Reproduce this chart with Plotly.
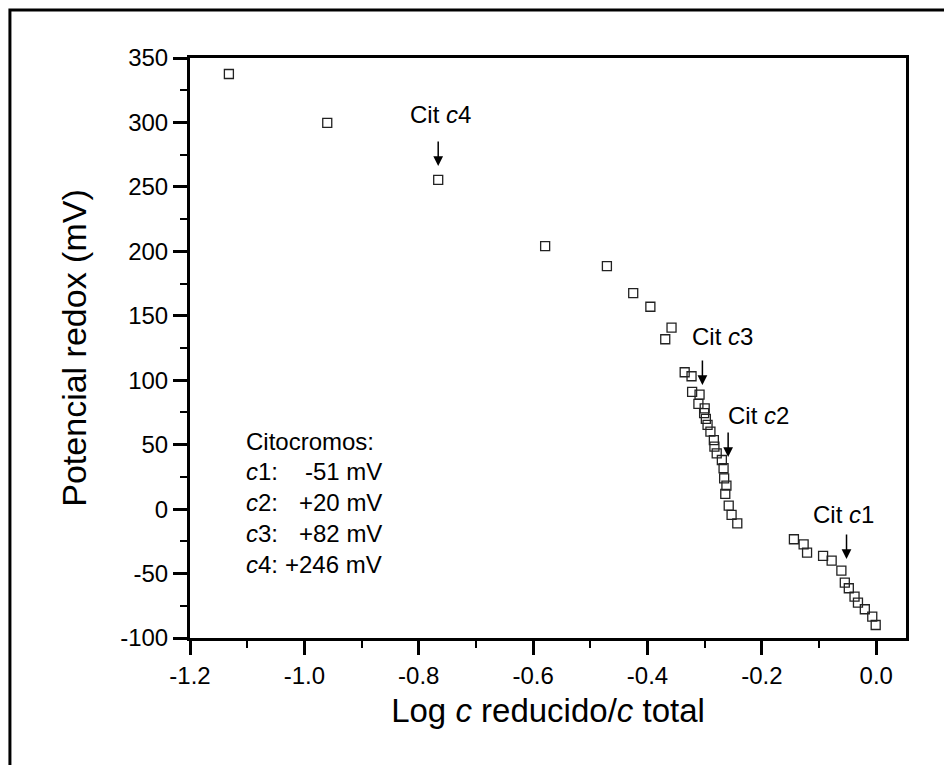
import plotly.graph_objects as go

# Data
log_ratio = [-1.132, -0.960, -0.766, -0.579, -0.471, -0.425, -0.395, -0.358, -0.369,
             -0.335, -0.323, -0.322, -0.309, -0.311, -0.300, -0.301, -0.298, -0.295,
             -0.290, -0.284, -0.283, -0.279, -0.270, -0.267, -0.266, -0.262, -0.264,
             -0.258, -0.253, -0.243,
             -0.144, -0.127, -0.121, -0.093, -0.078, -0.061, -0.055, -0.048, -0.038,
             -0.032, -0.020, -0.007, -0.001]
potential = [337.6, 299.6, 255.4, 204.0, 188.6, 167.5, 157.0, 140.8, 131.8,
             106.2, 103.1, 90.9, 88.8, 81.6, 78.2, 74.4, 70.0, 65.3,
             60.1, 53.6, 48.5, 43.3, 38.1, 31.7, 23.9, 18.2, 11.8,
             2.7, -4.5, -11.0,
             -23.4, -27.3, -33.8, -36.3, -40.0, -47.7, -57.0, -61.4, -67.9,
             -72.6, -77.7, -83.4, -89.9]

x_tickvals = [-1.2, -1.0, -0.8, -0.6, -0.4, -0.2, 0.0]
x_ticktext = ["-1.2", "-1.0", "-0.8", "-0.6", "-0.4", "-0.2", "0.0"]
y_tickvals = [-100, -50, 0, 50, 100, 150, 200, 250, 300, 350]
y_ticktext = ["-100", "-50", "0", "50", "100", "150", "200", "250", "300", "350"]

# Cytochrome labels (text, x, y) and arrow heads (x, y)
cit_labels = ["Cit <i>c</i>4", "Cit <i>c</i>3", "Cit <i>c</i>2", "Cit <i>c</i>1"]
cit_label_x = [-0.7625, -0.269, -0.206, -0.057]
cit_label_y = [305.8, 133.6, 73.0, -3.8]
arrow_x = [-0.766, -0.304, -0.259, -0.052]
arrow_y = [266.2, 96.3, 40.5, -38.7]

legend_title = "Citocromos:"
legend_names = ["<i>c</i>1:", "<i>c</i>2:", "<i>c</i>3:", "<i>c</i>4:"]
legend_values = ["-51 mV", "+20 mV", "+82 mV", "+246 mV"]

FONT = "Liberation Sans, Arial, sans-serif"

fig = go.Figure()
fig.add_trace(go.Scatter(
    x=log_ratio, y=potential, mode="markers",
    marker=dict(symbol="square-open", size=9, color="#222222",
                line=dict(width=1.3, color="#222222")),
    showlegend=False, hoverinfo="x+y"))

annotations = []
for t, x, y in zip(cit_labels, cit_label_x, cit_label_y):
    annotations.append(dict(x=x, y=y, xref="x", yref="y", text=t, showarrow=False,
                            font=dict(family=FONT, size=24, color="black"),
                            xanchor="center", yanchor="middle"))
for x, y in zip(arrow_x, arrow_y):
    annotations.append(dict(x=x, y=y, xref="x", yref="y", text="", showarrow=True,
                            ax=0, ay=-26, arrowhead=2, arrowsize=1.3, arrowwidth=1.5,
                            arrowcolor="black"))

# Legend-like text block
block_left = -1.1055
block_right = -0.86
title_y = 52.1
line_y = [28.8, 4.8, -19.3, -43.3]
annotations.append(dict(x=block_left, y=title_y, xref="x", yref="y", text=legend_title,
                        showarrow=False, xanchor="left", yanchor="middle",
                        font=dict(family=FONT, size=24, color="black")))
for n, v, y in zip(legend_names, legend_values, line_y):
    annotations.append(dict(x=block_left, y=y, xref="x", yref="y", text=n,
                            showarrow=False, xanchor="left", yanchor="middle",
                            font=dict(family=FONT, size=24, color="black")))
    annotations.append(dict(x=block_right, y=y, xref="x", yref="y", text=v,
                            showarrow=False, xanchor="right", yanchor="middle",
                            font=dict(family=FONT, size=24, color="black")))

fig.update_layout(
    width=944, height=765,
    margin=dict(l=190, r=38, t=58, b=127),
    paper_bgcolor="white", plot_bgcolor="white",
    font=dict(family=FONT, size=24, color="black"),
    annotations=annotations,
    shapes=[dict(type="rect", xref="paper", yref="paper",
                 x0=-0.2515, y0=-1.0, x1=2.0, y1=1.0828,
                 line=dict(color="black", width=3), layer="below")],
    xaxis=dict(range=[-1.2, 0.052], tickvals=x_tickvals, ticktext=x_ticktext,
               showgrid=False, zeroline=False, showline=True, linecolor="black",
               linewidth=3, mirror=True, ticks="outside", ticklen=14, tickwidth=3,
               tickcolor="black",
               minor=dict(dtick=0.1, tick0=0, ticks="outside", ticklen=7, tickwidth=2,
                          tickcolor="black", showgrid=False),
               tickfont=dict(family=FONT, size=24),
               title=dict(text="Log <i>c</i> reducido/<i>c</i> total",
                          font=dict(family=FONT, size=33), standoff=12)),
    yaxis=dict(range=[-100, 350], tickvals=y_tickvals, ticktext=y_ticktext,
               showgrid=False, zeroline=False, showline=True, linecolor="black",
               linewidth=3, mirror=True, ticks="outside", ticklen=14, tickwidth=3,
               tickcolor="black",
               minor=dict(dtick=25, tick0=0, ticks="outside", ticklen=7, tickwidth=2,
                          tickcolor="black", showgrid=False),
               tickfont=dict(family=FONT, size=24),
               title=dict(text="Potencial redox (mV)",
                          font=dict(family=FONT, size=34), standoff=24)),
)

fig.write_html("out.html")
